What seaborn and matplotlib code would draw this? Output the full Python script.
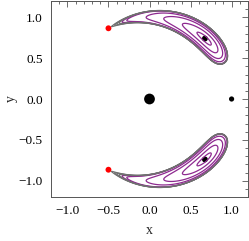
import numpy as np
import pandas as pd
import matplotlib
matplotlib.use("Agg")
import matplotlib.pyplot as plt
import seaborn as sns
from matplotlib.ticker import MultipleLocator

# ---- data ----
body_x = [0.0, 1.0]
body_y = [0.0, 0.0]
eq_x = [0.675, 0.675]
eq_y = [0.74, -0.74]
red_x = [-0.5, -0.5]
red_y = [0.866, -0.866]

# tadpole-shaped level field (angle of minimum, far end of separatrix, radial half width)
center_angle = 47.5
far_angle = 120.0
radial_halfwidth = 0.14
levels_gray = [1.475, 1.485, 1.492, 1.498]
levels_purple = [0.54, 0.72, 1.0, 1.24, 1.43, 1.46]

x_ticks = [-1.0, -0.5, 0.0, 0.5, 1.0]
y_ticks = [-1.0, -0.5, 0.0, 0.5, 1.0]

# ---- field ----
gx = np.linspace(-1.2, 1.2, 700)
gy = np.linspace(-1.2, 1.2, 700)
X, Y = np.meshgrid(gx, gy)
R = np.hypot(X, Y)
PHI = np.degrees(np.abs(np.arctan2(Y, X)))
k = 120.0 / (far_angle - center_angle)
PSI = np.clip(60.0 + (PHI - center_angle) * k, 2.0, 180.0)
PR = np.radians(PSI)
S = 1.0 / (2.0 * np.sin(PR / 2.0)) - np.cos(PR)
F = S + ((R - 1.0) / radial_halfwidth) ** 2

# ---- plot ----
sns.set_style("white")
plt.rcParams['font.family'] = ['Liberation Serif', 'DejaVu Serif']

fig = plt.figure(figsize=(2.49, 2.41), dpi=100)
ax = fig.add_axes([51 / 249, 1 - 197 / 241, 197 / 249, 196 / 241])

ax.contour(X, Y, F, levels=sorted(levels_purple), colors=['#8e2a90'], linewidths=0.9)
ax.contour(X, Y, F, levels=sorted(levels_gray), colors=['#707070'], linewidths=0.8)

sns.scatterplot(x=body_x[:1], y=body_y[:1], color='black', s=60, ax=ax, edgecolor='none', linewidth=0)
sns.scatterplot(x=body_x[1:], y=body_y[1:], color='black', s=14, ax=ax, edgecolor='none', linewidth=0)
sns.scatterplot(x=eq_x, y=eq_y, color='black', s=18, ax=ax, edgecolor='none', linewidth=0)
sns.scatterplot(x=red_x, y=red_y, color='#ff0000', s=18, ax=ax, edgecolor='none', linewidth=0)

ax.set_xlim(-1.2, 1.2)
ax.set_ylim(-1.2, 1.2)
ax.set_xticks(x_ticks)
ax.set_yticks(y_ticks)
ax.set_xticklabels([f"{v:.1f}".replace('-', '\u2212') for v in x_ticks])
ax.set_yticklabels([f"{v:.1f}".replace('-', '\u2212') for v in y_ticks])
ax.xaxis.set_minor_locator(MultipleLocator(0.1))
ax.yaxis.set_minor_locator(MultipleLocator(0.1))
ax.tick_params(which='both', direction='in', top=True, right=True, colors='#555555',
               labelcolor='black', labelsize=9.5, width=0.6)
ax.tick_params(which='major', length=4, pad=6)
ax.tick_params(which='minor', length=2)
for sp in ax.spines.values():
    sp.set_color('#555555')
    sp.set_linewidth(0.7)
ax.set_xlabel('x', fontsize=10)
ax.set_ylabel('y', fontsize=10)
ax.xaxis.set_label_coords(0.5, (197 - 231) / 196)
ax.yaxis.set_label_coords((11 - 51) / 197, 0.5)
ax.xaxis.label.set_va('center')
ax.yaxis.label.set_va('center')
ax.yaxis.label.set_ha('center')

fig.savefig('out.png', dpi=100)
